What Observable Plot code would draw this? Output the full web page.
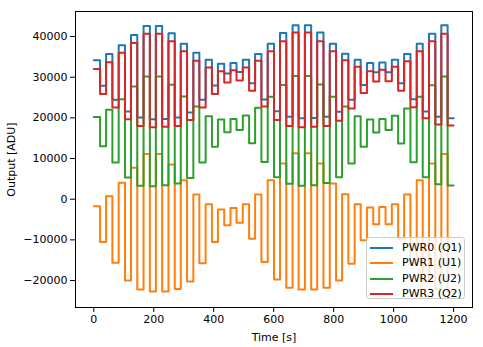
<!DOCTYPE html>
<html><head><meta charset="utf-8">
<script src="https://cdn.jsdelivr.net/npm/d3@7"></script>
<script src="https://cdn.jsdelivr.net/npm/@observablehq/plot@0.6"></script>
<style>
body{margin:0;background:#fff;}
#wrap{position:relative;width:483px;height:347px;font-family:"DejaVu Sans",sans-serif;color:#000;}
#legend{position:absolute;left:366px;top:237px;width:99px;height:62px;border:1px solid #cccccc;border-radius:3px;background:rgba(255,255,255,0.8);box-sizing:border-box;padding-top:2px;}
#legend .row{position:relative;height:15.3px;font-size:11px;line-height:15.3px;white-space:nowrap;}
#legend .sw{position:absolute;left:3px;top:7px;width:23px;height:2px;}
#legend .lb{position:absolute;left:35px;top:0;}
</style></head><body><div id="wrap"></div><script>
const seriesNames = ["PWR0 (Q1)", "PWR1 (U1)", "PWR2 (U2)", "PWR3 (Q2)"];
const seriesColors = ["#1f77b4", "#ff7f0e", "#2ca02c", "#d62728"];
const stepStart = [0, 21, 41, 62, 83, 104, 124, 145, 166, 187, 207, 228, 249, 270, 290, 311, 332, 352, 373, 394, 414, 435, 456, 476, 497, 518, 538, 559, 580, 601, 621, 642, 663, 683, 704, 725, 745, 766, 787, 808, 828, 849, 870, 890, 911, 932, 952, 973, 994, 1015, 1035, 1056, 1077, 1097, 1118, 1139, 1159, 1180];
const endTime = 1200;
const pwr0 = [34150, 27900, 35700, 24450, 37850, 21560, 40400, 20080, 42600, 19670, 42600, 19700, 40800, 20080, 38200, 21300, 36000, 24450, 34300, 27980, 33300, 30900, 33500, 31300, 34300, 28500, 35700, 24500, 38200, 21600, 40900, 20300, 42800, 19900, 42800, 20000, 41000, 20300, 38200, 21500, 35800, 24450, 34300, 28100, 33500, 31200, 33600, 31250, 34300, 28500, 35700, 24600, 38200, 21550, 40700, 20300, 42800, 19900];
const pwr1 = [-1730, -10540, 740, -15640, 4030, -19990, 7730, -22220, 11110, -22710, 11110, -22700, 8560, -22050, 4690, -20250, 1160, -15720, -1230, -10540, -2550, -6420, -2140, -5760, -1230, -9710, 1160, -15470, 4690, -19750, 8810, -21800, 11280, -22220, 11280, -22220, 8810, -21800, 3870, -20000, 1230, -15880, -1230, -10120, -2060, -6170, -1890, -6170, -1230, -9710, 1160, -15880, 4690, -20000, 8810, -22050, 11110, -22700];
const pwr2 = [20200, 13000, 22000, 9050, 24600, 5350, 27700, 3300, 30200, 3200, 30200, 3450, 28150, 3870, 25260, 5200, 22800, 9050, 20400, 12900, 19600, 16460, 19750, 17040, 20570, 13750, 22500, 9140, 25200, 5430, 28100, 3780, 30300, 3300, 30300, 3450, 28200, 4000, 25200, 5430, 22800, 8810, 20400, 12900, 19600, 16400, 19700, 17000, 20500, 13700, 22300, 9100, 25200, 5400, 28000, 3700, 30200, 3400];
const pwr3 = [32000, 25900, 33650, 22540, 36000, 19670, 38440, 18000, 40700, 17700, 40700, 17800, 38850, 18000, 36400, 19500, 34070, 22540, 32400, 25900, 31440, 28700, 31700, 29200, 32400, 26670, 34070, 22800, 36400, 19500, 38850, 18000, 41000, 17700, 41000, 17800, 38850, 18000, 36400, 19300, 34150, 22300, 32600, 26100, 31440, 28970, 31850, 29000, 32600, 26670, 33900, 22630, 36400, 19900, 38850, 18400, 40700, 18100];
const xTicks = [0, 200, 400, 600, 800, 1000, 1200];
const yTicks = [-20000, -10000, 0, 10000, 20000, 30000, 40000];
const xLabel = "Time [s]";
const yLabel = "Output [ADU]";

const allSeries = [pwr0, pwr1, pwr2, pwr3];
const rows = [];
allSeries.forEach((vals, k) => {
  vals.forEach((v, i) => rows.push({series: seriesNames[k], t: stepStart[i], v}));
  rows.push({series: seriesNames[k], t: endTime, v: vals[vals.length - 1]});
});

const chart = Plot.plot({
  width: 483,
  height: 347,
  marginLeft: 75,
  marginRight: 11,
  marginTop: 11,
  marginBottom: 40,
  style: {fontFamily: "DejaVu Sans, sans-serif", fontSize: "11px", background: "#fff", color: "#000"},
  x: {domain: [-61, 1263], ticks: xTicks, tickFormat: d3.format("d"), label: xLabel, labelAnchor: "center", labelArrow: "none", tickSize: 5, tickPadding: 3, labelOffset: 33},
  y: {domain: [-26630, 46160], ticks: yTicks, tickFormat: d3.format("d"), label: yLabel, labelAnchor: "center", labelArrow: "none", tickSize: 5, tickPadding: 3, labelOffset: 68},
  color: {domain: seriesNames, range: seriesColors},
  marks: [
    Plot.line(rows, {x: "t", y: "v", z: "series", stroke: "series", curve: "step-after", strokeWidth: 2}),
    Plot.frame({stroke: "#000", strokeWidth: 1})
  ]
});
const wrap = document.getElementById("wrap");
wrap.appendChild(chart);

const legend = document.createElement("div");
legend.id = "legend";
seriesNames.forEach((name, k) => {
  const row = document.createElement("div");
  row.className = "row";
  const sw = document.createElement("div");
  sw.className = "sw";
  sw.style.background = seriesColors[k];
  const lb = document.createElement("span");
  lb.className = "lb";
  lb.textContent = name;
  row.appendChild(sw);
  row.appendChild(lb);
  legend.appendChild(row);
});
wrap.appendChild(legend);
</script></body></html>
